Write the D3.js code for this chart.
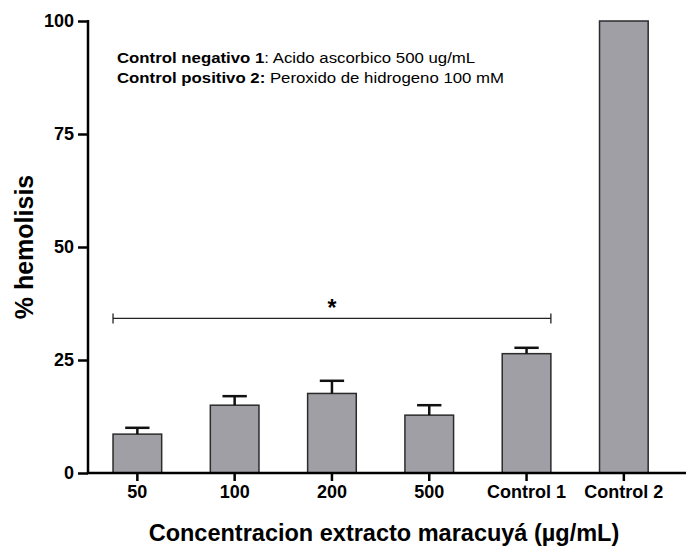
<!DOCTYPE html>
<html lang="es">
<head>
<meta charset="UTF-8">
<title>% hemolisis</title>
<style>
  body { margin: 0; background: #fff; }
  svg text { font-family: "Liberation Sans", Arial, sans-serif; fill: #000; }
</style>
</head>
<body>
<div id="chart"></div>
<script src="https://d3js.org/d3.v7.min.js"></script>
<script>
// datos
const categories = ['50', '100', '200', '500', 'Control 1', 'Control 2'];
const means = [8.6, 15.0, 17.6, 12.8, 26.4, 100];
const errUp = [10.0, 17.0, 20.4, 15.0, 27.7, null];   // extremo superior de la barra de error
const yTicks = [0, 25, 50, 75, 100];
const sigSpan = ['50', 'Control 1'];  // linea de significancia
const sigLevel = 34.2;

const w = 686, h = 546;
const x0 = 88, y0 = 473;

const svg = d3.select('#chart').append('svg')
  .attr('width', w).attr('height', h);

const xScale = d3.scaleBand()
  .domain(categories)
  .range([x0 + 0.7, 672.5])
  .paddingInner(0.5)
  .paddingOuter(0.25);

const yScale = d3.scaleLinear()
  .domain([0, 100])
  .range([y0, 21]);

// barras
svg.selectAll('rect.bar')
  .data(categories)
  .enter().append('rect')
  .attr('class', 'bar')
  .attr('x', d => xScale(d))
  .attr('width', xScale.bandwidth())
  .attr('y', (d, i) => yScale(means[i]))
  .attr('height', (d, i) => yScale(0) - yScale(means[i]))
  .attr('fill', '#a09fa5')
  .attr('stroke', '#2b2b2b')
  .attr('stroke-width', 1.5);

// barras de error (solo hacia arriba)
const errG = svg.append('g').attr('stroke', '#111').attr('stroke-width', 2.5);
categories.forEach((c, i) => {
  if (errUp[i] == null) return;
  const cx = xScale(c) + xScale.bandwidth() / 2;
  const capW = xScale.bandwidth() / 4;
  errG.append('line')
    .attr('x1', cx).attr('x2', cx)
    .attr('y1', yScale(means[i])).attr('y2', yScale(errUp[i]));
  errG.append('line')
    .attr('x1', cx - capW).attr('x2', cx + capW)
    .attr('y1', yScale(errUp[i])).attr('y2', yScale(errUp[i]));
});

// eje Y
const yAxis = d3.axisLeft(yScale).tickValues(yTicks).tickSize(10).tickPadding(4);
const gy = svg.append('g')
  .attr('transform', `translate(${x0},0)`)
  .call(yAxis);
gy.select('.domain').remove();
gy.append('line').attr('x1', 0).attr('x2', 0)
  .attr('y1', yScale(100) - 1).attr('y2', y0 + 1)
  .attr('stroke', '#000').attr('stroke-width', 2.5);
gy.selectAll('.tick line').attr('stroke', '#000').attr('stroke-width', 2.5);
gy.selectAll('.tick text')
  .style('font-size', '18px').style('font-weight', 'bold');

// eje X
const xAxis = d3.axisBottom(xScale).tickSize(8).tickPadding(4);
const gx = svg.append('g')
  .attr('transform', `translate(0,${y0})`)
  .call(xAxis);
gx.select('.domain').remove();
gx.append('line').attr('x1', x0 - 1).attr('x2', 686)
  .attr('y1', 0).attr('y2', 0)
  .attr('stroke', '#000').attr('stroke-width', 2.5);
gx.selectAll('.tick line').attr('stroke', '#000').attr('stroke-width', 2.5);
gx.selectAll('.tick text')
  .style('font-size', '18px').style('font-weight', 'bold');

// linea de significancia
const sx1 = xScale(sigSpan[0]);
const sx2 = xScale(sigSpan[1]) + xScale.bandwidth();
const sy = yScale(sigLevel);
const sigG = svg.append('g').attr('stroke', '#222').attr('stroke-width', 1.3);
sigG.append('line').attr('x1', sx1).attr('x2', sx2).attr('y1', sy).attr('y2', sy);
sigG.append('line').attr('x1', sx1).attr('x2', sx1).attr('y1', sy - 5).attr('y2', sy + 5);
sigG.append('line').attr('x1', sx2).attr('x2', sx2).attr('y1', sy - 5).attr('y2', sy + 5);
svg.append('text')
  .attr('x', (xScale('200') + xScale.bandwidth() / 2))
  .attr('y', sy - 2)
  .attr('text-anchor', 'middle')
  .style('font-size', '23px').style('font-weight', 'bold')
  .text('*');

// leyenda de controles
const legend = [
  ['Control negativo 1', ': Acido ascorbico 500 ug/mL'],
  ['Control positivo 2:', ' Peroxido de hidrogeno 100 mM']
];
const legG = svg.append('g').attr('transform', 'translate(117,0) scale(1.12,1)');
legend.forEach((l, i) => {
  const t = legG.append('text')
    .attr('x', 0).attr('y', 62.7 + i * 20)
    .style('font-size', '15px');
  t.append('tspan').style('font-weight', 'bold').text(l[0]);
  t.append('tspan').text(l[1]);
});

// titulos de ejes
svg.append('text')
  .attr('transform', `translate(33,${(yScale(0) + yScale(100)) / 2}) rotate(-90)`)
  .attr('text-anchor', 'middle')
  .style('font-size', '25px').style('font-weight', 'bold')
  .text('% hemolisis');

svg.append('text')
  .attr('x', 384).attr('y', 541)
  .attr('text-anchor', 'middle')
  .style('font-size', '23.5px').style('font-weight', 'bold')
  .text('Concentracion extracto maracuyá (µg/mL)');
</script>
</body>
</html>
